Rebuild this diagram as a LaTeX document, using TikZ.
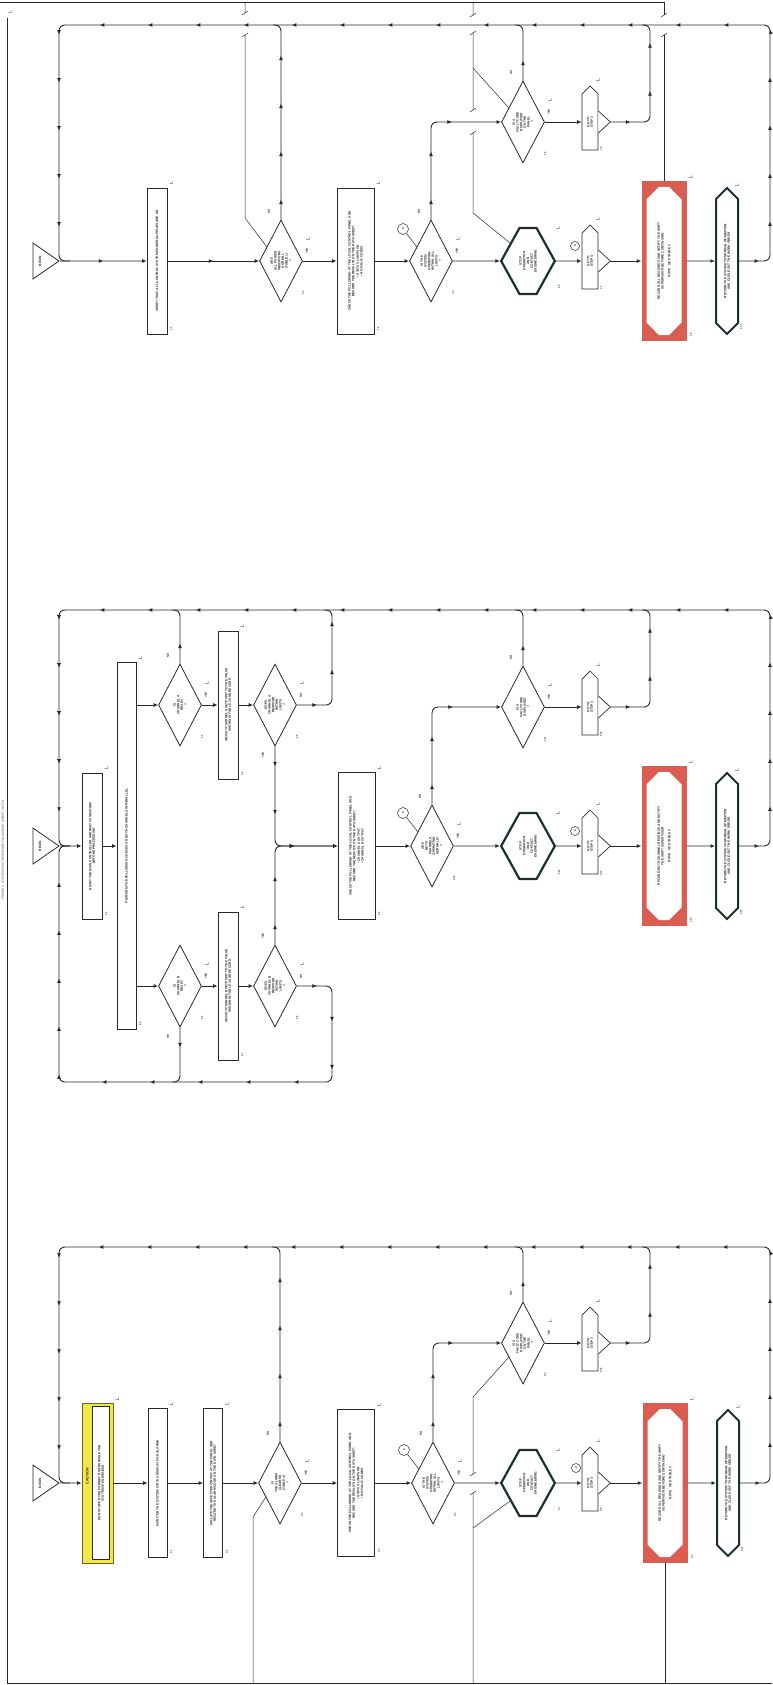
\documentclass[tikz,border=0pt]{standalone}
\usepackage{fontspec}
\setmainfont{Liberation Sans}
\usepackage{tikz}
\usetikzlibrary{arrows.meta,calc,decorations.markings,shapes.geometric,shapes.misc,shapes.symbols}

\definecolor{ink}{RGB}{40,40,40}
\definecolor{alarmred}{RGB}{219,92,80}
\definecolor{cautyellow}{RGB}{240,232,72}
\definecolor{cautedge}{RGB}{110,100,30}
\definecolor{stopgreen}{RGB}{26,50,34}

\newcommand{\bump}[1]{\filldraw[fill=white, line width=0.7pt] ($(#1.south)+(0,-11)$) -- ($(#1.south)+(12,0)$) coordinate (#1t) -- ($(#1.south)+(0,11)$);}
\newcommand{\brk}[1]{\draw[lead] ($(#1)+(-3,2)$) -- ($(#1)+(3,-2)$);}
\newcommand{\mk}[3]{\node[mk] (#1-mk) at ($(#1.#2)+(#3)$) {L};}
\newcommand{\sid}[4]{\node[sid] (#1-id) at ($(#1.#2)+(#3)$) {#4};}

\begin{document}
\begin{tikzpicture}[x=1pt, y=-1pt, color=ink,
  every node/.style={rotate=90, align=center, inner sep=1pt, font=\bfseries\fontsize{3.2}{3.7}\selectfont},
  box/.style={draw, fill=white, line width=0.8pt},
  dec/.style={diamond, draw, fill=white, line width=0.8pt, aspect=2, inner sep=0pt, minimum width=82, minimum height=43},
  beg/.style={isosceles triangle, isosceles triangle stretches, shape border rotate=270, draw, fill=white, line width=0.8pt, inner sep=0pt, minimum width=36, minimum height=26},
  conn/.style={signal, signal to=east, draw, fill=white, line width=0.7pt, inner sep=0pt, minimum width=64, minimum height=16},
  hexa/.style={signal, signal to=north and south, signal pointer angle=122, draw=stopgreen, line width=2.2pt, fill=white, inner sep=0pt, minimum width=66, minimum height=20},
  term/.style={signal, signal to=east and west, draw=stopgreen, line width=2pt, fill=white, inner sep=0pt, minimum width=146, minimum height=22},
  redbox/.style={fill=alarmred, minimum width=160, minimum height=45, inner sep=0pt},
  redin/.style={chamfered rectangle, chamfered rectangle xsep=10pt, chamfered rectangle ysep=6pt, fill=white, minimum width=148, minimum height=35, inner sep=0pt},
  caut/.style={fill=cautyellow, draw=cautedge, line width=0.8pt, minimum width=160, minimum height=31},
  circ/.style={circle, draw, fill=white, line width=0.5pt, inner sep=0pt, minimum size=11},
  mk/.style={font=\fontsize{5}{5}\selectfont, inner sep=0pt},
  sid/.style={font=\bfseries\fontsize{2.4}{2.6}\selectfont, inner sep=0pt},
  yn/.style={font=\bfseries\fontsize{2.8}{3}\selectfont, inner sep=0pt},
  lead/.style={line width=0.5pt},
  arr/.style={line width=0.9pt, -{Latex[length=4.5pt, width=4pt]}},
  mid/.style={postaction={decorate}, decoration={markings, mark=at position 0.5 with {\arrow{Latex[length=4.5pt, width=4pt]}}}},
  flow/.style={line width=0.9pt, rounded corners=6pt, postaction={decorate}, decoration={markings, mark=between positions 20pt and -12pt step 48pt with {\arrow{Latex[length=4.5pt, width=4pt]}}}}
]
  \useasboundingbox (0,0) rectangle (772,1685);

  % page frame
  \draw[lead] (0,2) -- (664,2);
  \draw[lead] (7,18) -- (7,1683) -- (772,1683);
  \node[mk] (frame-mk) at (10,12) {L};
  \node[font=\bfseries\fontsize{3}{3}\selectfont, color=gray] (title) at (3,850) {FIGURE 3. SYSTEM FAULT RESPONSE FLOWCHART (SHEET 2 OF 4)};

  % ---------------- section 1 ----------------
  \coordinate (nw1) at (59,25);
  \coordinate (ne1) at (770,25);
  \coordinate (c1) at (650,25);
  \coordinate (in1) at (70,261);

  \node[beg] (tri1) at (40,261) {BEGIN};
  \node[box, minimum width=146, minimum height=20] (b11) at (157,261) {VERIFY THAT ALL CONTROL SYSTEM POWER SUPPLIES ARE ON};
  \node[dec] (d11) at (281,261) {ARE\\ALL POWER\\INDICATORS\\NORMAL\\(TABLE 1)\\?};
  \node[box, minimum width=146, minimum height=37] (b12) at (355.5,261) {CHECK THE FOLLOWING AT THE LOCAL CONTROL PANEL AND\\RECORD THE RESULTS ON THE DATA SHEET:\\[1pt]\textbullet\ STATUS LAMPS ON\\\textbullet\ NO FAULT CODES};
  \node[dec] (d12) at (431,261) {IS THE\\SYSTEM\\OPERATING\\WITHIN ALL\\LIMITS\\?};
  \node[circ] (d12c) at (403,229) {1};
  \node[dec] (d13) at (523,122) {IS A\\FAULT CODE\\DISPLAYED\\ON THE\\PANEL\\?};
  \node[conn] (k11) at (590,122) {GO TO\\STEP 3};
  \node[hexa] (hex1) at (528,261) {STOP\\OPERATION\\AND\\CONTACT\\ENGINEERING};
  \node[conn] (k12) at (590,261) {GO TO\\STEP 4};
  \node[circ, minimum size=9] (k12c) at (575,246) {2};
  \node[redbox] (r1) at (664,261) {};
  \node[redin] (r1i) at (r1) {RECORD ALL READINGS AND NOTIFY THE SHIFT\\SUPERVISOR BEFORE CONTINUING\\[3pt]NOTE\quad SEE TABLE 2};
  \node[term] (t1) at (727,261) {RETURN THE SYSTEM TO NORMAL OPERATION\\AND CLOSE OUT THE WORK ORDER};

  \mk{b11}{south east}{4,-4} \mk{b12}{south east}{4,-4} \mk{r1}{south east}{4,-4}
  \mk{d11}{center}{27,-22} \mk{d12}{center}{27,-22} \mk{d13}{center}{27,-22}
  \mk{hex1}{center}{30,-33} \mk{k11}{center}{8,-42} \mk{k12}{center}{8,-42} \mk{t1}{center}{10,-76}
  \sid{b11}{south west}{4,-6}{1.1} \sid{b12}{south west}{4,-6}{1.3} \sid{r1}{south west}{4,-6}{1.8}
  \sid{d11}{center}{22,32}{1.2} \sid{d12}{center}{22,32}{1.4} \sid{d13}{center}{22,32}{1.5}
  \sid{hex1}{center}{31,26}{1.6} \sid{k11}{center}{11,27}{1.9} \sid{k12}{center}{11,27}{1.7} \sid{t1}{center}{14,66}{1.10}
  \node[yn] (d11-n) at ($(d11)+(-12,-50)$) {NO}; \node[yn] (d11-y) at ($(d11)+(26,-10)$) {YES};
  \node[yn] (d12-n) at ($(d12)+(-12,-50)$) {NO}; \node[yn] (d12-y) at ($(d12)+(26,-10)$) {YES};
  \node[yn] (d13-n) at ($(d13)+(-12,-50)$) {NO}; \node[yn] (d13-y) at ($(d13)+(26,-10)$) {YES};

  \draw[arr, mid] (tri1) -- (b11);
  \draw[arr, mid] (b11) -- (d11);
  \draw[arr] (d11) -- (b12);
  \draw[arr] (b12) -- (d12);
  \draw[arr] (d12) -- (hex1);
  \draw[arr] (hex1) -- (k12);
  \bump{k12}
  \draw[arr] (k12t) -- (r1);
  \draw[arr] (r1) -- (t1);
  \draw[flow, arr] (d12) |- (d13);
  \draw[arr] (d13) -- (k11);
  \bump{k11}
  \draw[flow] (k11t) -| (c1) -- ++(-8,0);
  \draw[flow] (d11) -- (d11 |- nw1) -- ++(-8,0);
  \draw[flow] (d13) -- (d13 |- nw1) -- ++(-8,0);
  \draw[flow] (t1) -| (ne1) -- (nw1) |- (in1);
  \draw[lead] (d12c) -- (d12.45);

  \draw[lead] (d11.45) -- (245,218) -- (245,35) (245,13) -- (245,2);
  \brk{245,35} \brk{245,13}
  \draw[lead] (hex1.45) -- (473,213) -- (473,133) (473,110) -- (473,33) (473,15) -- (473,2);
  \draw[lead] (d13.45) -- (473,68);
  \brk{473,133} \brk{473,110} \brk{473,33} \brk{473,15}
  \draw[lead] (r1.east) -- (664,35) (664,15) -- (664,2);
  \brk{664,35} \brk{664,15}

  % ---------------- section 2 ----------------
  \coordinate (nw2) at (59,610);
  \coordinate (ne2) at (770,610);
  \coordinate (c2) at (650,610);
  \coordinate (ue2) at (332,610);
  \coordinate (sw2) at (59,1082);
  \coordinate (se2) at (332,1082);
  \coordinate (in2) at (70,846);

  \node[beg] (tri2) at (40,846) {BEGIN};
  \node[box, minimum width=146, minimum height=20] (b21) at (92,846) {RESET THE MAIN CONTROLLER AND WAIT 30 SECONDS\\BEFORE PROCEEDING};
  \node[box, minimum width=367, minimum height=19] (b22) at (126.5,846) {PERFORM THE FOLLOWING CHECKS ON BOTH CHANNELS IN PARALLEL};
  \node[dec] (d21) at (180,705) {IS\\CHANNEL A\\READY\\?};
  \node[box, minimum width=148, minimum height=20] (b23) at (228,705) {ADJUST CHANNEL A SETPOINT TO THE VALUE\\SHOWN IN TABLE 3 AND RECORD};
  \node[dec] (d22) at (275,705) {DOES\\CHANNEL A\\RESPOND\\WITHIN\\LIMITS\\?};
  \node[dec] (d23) at (180,986) {IS\\CHANNEL B\\READY\\?};
  \node[box, minimum width=148, minimum height=20] (b24) at (228,986) {ADJUST CHANNEL B SETPOINT TO THE VALUE\\SHOWN IN TABLE 3 AND RECORD};
  \node[dec] (d24) at (275,986) {DOES\\CHANNEL B\\RESPOND\\WITHIN\\LIMITS\\?};
  \node[box, minimum width=147, minimum height=37] (b25) at (356.5,846) {CHECK THE FOLLOWING AT THE LOCAL CONTROL PANEL AND\\RECORD THE RESULTS ON THE DATA SHEET:\\[1pt]\textbullet\ CHANNEL A OUTPUT\\\textbullet\ CHANNEL B OUTPUT};
  \node[dec] (d25) at (432,846) {ARE\\BOTH\\CHANNELS\\OPERATING\\NORMALLY\\?};
  \node[circ] (d25c) at (403,813) {1};
  \node[dec] (d26) at (523,707) {IS A\\FAULT CODE\\DISPLAYED\\?};
  \node[conn] (k21) at (590,707) {GO TO\\STEP 3};
  \node[hexa] (hex2) at (528,846) {STOP\\OPERATION\\AND\\CONTACT\\ENGINEERING};
  \node[conn] (k22) at (590,846) {GO TO\\STEP 4};
  \node[circ, minimum size=9] (k22c) at (575,831) {2};
  \node[redbox] (r2) at (664,846) {};
  \node[redin] (r2i) at (r2) {RECORD BOTH CHANNEL READINGS AND NOTIFY\\THE SHIFT SUPERVISOR\\[3pt]NOTE\quad SEE TABLE 2};
  \node[term] (t2) at (727,846) {RETURN THE SYSTEM TO NORMAL OPERATION\\AND CLOSE OUT THE WORK ORDER};

  \mk{b21}{south east}{4,-4} \mk{b22}{south east}{4,-4} \mk{b23}{south east}{4,-4} \mk{b24}{south east}{4,-4} \mk{b25}{south east}{4,-4} \mk{r2}{south east}{4,-4}
  \mk{d21}{center}{27,-22} \mk{d22}{center}{27,-22} \mk{d23}{center}{27,-22} \mk{d24}{center}{27,-22} \mk{d25}{center}{27,-22} \mk{d26}{center}{27,-22}
  \mk{hex2}{center}{30,-33} \mk{k21}{center}{8,-42} \mk{k22}{center}{8,-42} \mk{t2}{center}{10,-76}
  \sid{b21}{south west}{4,-6}{2.1} \sid{b22}{south west}{4,-6}{2.2} \sid{b23}{south west}{4,-6}{2.4} \sid{b24}{south west}{4,-6}{2.7} \sid{b25}{south west}{4,-6}{2.9} \sid{r2}{south west}{4,-6}{2.14}
  \sid{d21}{center}{22,32}{2.3} \sid{d22}{center}{22,32}{2.5} \sid{d23}{center}{22,32}{2.6} \sid{d24}{center}{22,32}{2.8} \sid{d25}{center}{22,32}{2.10} \sid{d26}{center}{22,32}{2.11}
  \sid{hex2}{center}{31,26}{2.12} \sid{k21}{center}{11,27}{2.15} \sid{k22}{center}{11,27}{2.13} \sid{t2}{center}{14,66}{2.16}
  \node[yn] (d21-n) at ($(d21)+(-12,-50)$) {NO}; \node[yn] (d21-y) at ($(d21)+(26,-10)$) {YES};
  \node[yn] (d22-n) at ($(d22)+(26,-10)$) {NO}; \node[yn] (d22-y) at ($(d22)+(-12,50)$) {YES};
  \node[yn] (d23-n) at ($(d23)+(-12,50)$) {NO}; \node[yn] (d23-y) at ($(d23)+(26,-10)$) {YES};
  \node[yn] (d24-n) at ($(d24)+(26,-10)$) {NO}; \node[yn] (d24-y) at ($(d24)+(-12,-50)$) {YES};
  \node[yn] (d25-n) at ($(d25)+(-12,-50)$) {NO}; \node[yn] (d25-y) at ($(d25)+(26,-10)$) {YES};
  \node[yn] (d26-n) at ($(d26)+(-12,-50)$) {NO}; \node[yn] (d26-y) at ($(d26)+(26,-10)$) {YES};

  \draw[arr] (tri2) -- (b21);
  \draw[arr] (b21) -- (b22);
  \draw[arr] (d21 -| b22.south) -- (d21);
  \draw[arr] (d21) -- (b23);
  \draw[arr] (b23) -- (d22);
  \draw[arr] (d23 -| b22.south) -- (d23);
  \draw[arr] (d23) -- (b24);
  \draw[arr] (b24) -- (d24);
  \draw[flow, arr] (d22) |- (b25);
  \draw[flow, arr] (d24) |- (b25);
  \draw[arr] (b25) -- (d25);
  \draw[arr] (d25) -- (hex2);
  \draw[arr] (hex2) -- (k22);
  \bump{k22}
  \draw[arr] (k22t) -- (r2);
  \draw[arr] (r2) -- (t2);
  \draw[flow, arr] (d25) |- (d26);
  \draw[arr] (d26) -- (k21);
  \bump{k21}
  \draw[flow] (k21t) -| (c2) -- ++(-8,0);
  \draw[flow] (d21) -- (d21 |- nw2) -- ++(-8,0);
  \draw[flow] (d22) -| (ue2) -- ++(-8,0);
  \draw[flow] (d26) -- (d26 |- nw2) -- ++(-8,0);
  \draw[flow] (d23) -- (d23 |- sw2) -- ++(-8,0);
  \draw[flow] (t2) -| (ne2) -- (nw2) |- (in2);
  \draw[flow] (d24) -| (se2) -- (sw2) |- (in2);
  \draw[lead] (d25c) -- (d25.45);

  % ---------------- section 3 ----------------
  \coordinate (nw3) at (59,1247);
  \coordinate (ne3) at (770,1247);
  \coordinate (c3) at (650,1247);
  \coordinate (in3) at (70,1483);

  \node[beg] (tri3) at (40,1483) {BEGIN};
  \node[caut] (cau) at (97.5,1483) {};
  \node[box, line width=0.5pt, minimum width=153, minimum height=17] (cau-in) at (101,1483) {DO NOT OPEN THE CABINET DOORS WHILE THE\\SYSTEM IS ENERGIZED};
  \node[font=\bfseries\fontsize{3.6}{3.6}\selectfont, inner sep=0pt] (cau-t) at (87.5,1476) {CAUTION};
  \node[box, minimum width=149, minimum height=19] (b31) at (157.5,1483) {MONITOR THE SYSTEM STATUS DISPLAY FOR ALARMS};
  \node[box, minimum width=149, minimum height=19] (b32) at (213,1483) {ISOLATE THE AFFECTED CIRCUIT AT THE PANEL AND\\RECORD THE ALARM CODE ON THE DATA SHEET};
  \node[dec] (d31) at (280,1483) {IS\\THE ALARM\\CLEARED\\(TABLE 4)\\?};
  \node[box, minimum width=147, minimum height=37] (b33) at (356,1483) {CHECK THE FOLLOWING AT THE LOCAL CONTROL PANEL AND\\RECORD THE RESULTS ON THE DATA SHEET:\\[1pt]\textbullet\ STATUS LAMPS ON\\\textbullet\ NO FAULT CODES};
  \node[dec] (d32) at (433,1483) {IS THE\\SYSTEM\\OPERATING\\WITHIN ALL\\LIMITS\\?};
  \node[circ] (d32c) at (404,1450) {1};
  \node[dec] (d33) at (523,1343) {IS A\\FAULT CODE\\DISPLAYED\\ON THE\\PANEL\\?};
  \node[conn] (k31) at (590,1343) {GO TO\\STEP 3};
  \node[hexa] (hex3) at (528,1483) {STOP\\OPERATION\\AND\\CONTACT\\ENGINEERING};
  \node[conn] (k32) at (590,1483) {GO TO\\STEP 4};
  \node[circ, minimum size=9] (k32c) at (576,1468) {2};
  \node[redbox] (r3) at (665,1483) {};
  \node[redin] (r3i) at (r3) {RECORD ALL READINGS AND NOTIFY THE SHIFT\\SUPERVISOR BEFORE CONTINUING\\[3pt]NOTE\quad SEE TABLE 2};
  \node[term] (t3) at (728,1483) {RETURN THE SYSTEM TO NORMAL OPERATION\\AND CLOSE OUT THE WORK ORDER};

  \mk{cau}{south east}{4,-4} \mk{b31}{south east}{4,-4} \mk{b32}{south east}{4,-4} \mk{b33}{south east}{4,-4} \mk{r3}{south east}{4,-4}
  \mk{d31}{center}{27,-22} \mk{d32}{center}{27,-22} \mk{d33}{center}{27,-22}
  \mk{hex3}{center}{30,-33} \mk{k31}{center}{8,-42} \mk{k32}{center}{8,-42} \mk{t3}{center}{10,-76}
  \sid{b31}{south west}{4,-6}{3.1} \sid{b32}{south west}{4,-6}{3.2} \sid{b33}{south west}{4,-6}{3.4} \sid{r3}{south west}{4,-6}{3.9}
  \sid{d31}{center}{22,32}{3.3} \sid{d32}{center}{22,32}{3.5} \sid{d33}{center}{22,32}{3.6}
  \sid{hex3}{center}{31,26}{3.7} \sid{k31}{center}{11,27}{3.10} \sid{k32}{center}{11,27}{3.8} \sid{t3}{center}{14,66}{3.11}
  \node[yn] (d31-n) at ($(d31)+(-12,-50)$) {NO}; \node[yn] (d31-y) at ($(d31)+(26,-10)$) {YES};
  \node[yn] (d32-n) at ($(d32)+(-12,-50)$) {NO}; \node[yn] (d32-y) at ($(d32)+(26,-10)$) {YES};
  \node[yn] (d33-n) at ($(d33)+(-12,-50)$) {NO}; \node[yn] (d33-y) at ($(d33)+(26,-10)$) {YES};

  \draw[arr] (tri3) -- (cau);
  \draw[arr] (cau) -- (b31);
  \draw[arr] (b31) -- (b32);
  \draw[arr] (b32) -- (d31);
  \draw[arr] (d31) -- (b33);
  \draw[arr] (b33) -- (d32);
  \draw[arr] (d32) -- (hex3);
  \draw[arr] (hex3) -- (k32);
  \bump{k32}
  \draw[arr] (k32t) -- (r3);
  \draw[arr] (r3) -- (t3);
  \draw[flow, arr] (d32) |- (d33);
  \draw[arr] (d33) -- (k31);
  \bump{k31}
  \draw[flow] (k31t) -| (c3) -- ++(-8,0);
  \draw[flow] (d31) -- (d31 |- nw3) -- ++(-8,0);
  \draw[flow] (d33) -- (d33 |- nw3) -- ++(-8,0);
  \draw[flow] (t3) -| (ne3) -- (nw3) |- (in3);
  \draw[lead] (d32c) -- (d32.45);

  \draw[lead] (d31.135) -- (253,1517) -- (253,1683);
  \draw[lead] (d33.135) -- (473,1397) -- (473,1474) (473,1493) -- (473,1683);
  \draw[lead] (hex3.135) -- (473,1528);
  \brk{473,1474} \brk{473,1493}
  \draw[lead] (r3.west) -- (665,1683);
\end{tikzpicture}
\end{document}
